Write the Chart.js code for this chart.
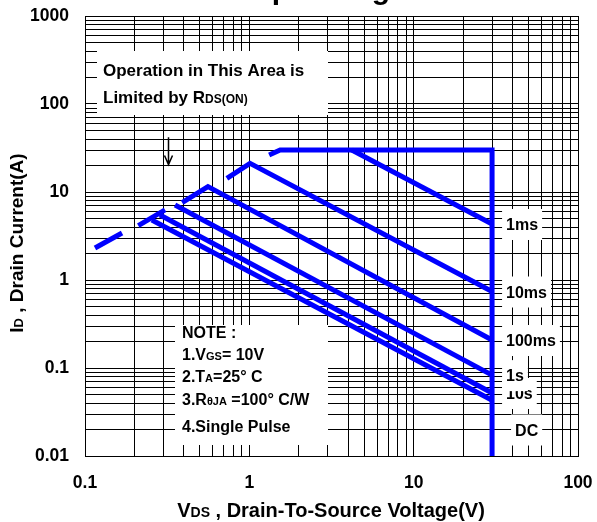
<!DOCTYPE html>
<html>
<head>
<meta charset="utf-8">
<script src="https://cdn.jsdelivr.net/npm/chart.js@4.4.0/dist/chart.umd.min.js"></script>
<style>
  html, body { margin: 0; padding: 0; background: #fff; }
</style>
</head>
<body>
<canvas id="soa" width="597" height="522"></canvas>
<script>
// values, VDS in volts, ID in amps
const rdsV1 = [0.115, 0.168];
const rdsI1 = [2.31, 3.42];
const rdsV2 = [0.211, 0.307];
const rdsI2 = [4.14, 6.25];
const limitV = [1.32, 1.54, 30, 30];
const limitI = [26.3, 30, 30, 0.01];
const ms1V = [4.2, 30];
const ms1I = [30, 4.33];
const ms10V = [0.73, 1.01, 30];
const ms10I = [14.3, 21.2, 0.74];
const ms100V = [0.39, 0.56, 30];
const ms100I = [7.56, 11.5, 0.208];
const s1V = [0.353, 30];
const s1I = [7.12, 0.083];
const s10V = [0.286, 30];
const s10I = [5.48, 0.052];
const dcV = [0.255, 30];
const dcI = [4.81, 0.043];

const xTicks = [0.1, 1, 10, 100];
const yTicks = [0.01, 0.1, 1, 10, 100, 1000];
const curveLabels = ['1ms', '10ms', '100ms', '1s', '10s', 'DC'];
const labelI = [4.33, 0.74, 0.208, 0.083, 0.052, 0.02];

const FAM = '"Liberation Sans", Arial, sans-serif';
const font = size => 'bold ' + size + 'px ' + FAM;

// 1..9 per decade, the usual log paper grid
function gridValues(decades) {
  const out = [];
  for (let d = 0; d < decades.length - 1; d++) {
    for (let m = 1; m < 10; m++) out.push(m === 1 ? decades[d] : decades[d] * m);
  }
  out.push(decades[decades.length - 1]);
  return out.map(v => ({ value: v }));
}

function pts(vs, is) {
  return vs.map((v, k) => ({ x: v, y: is[k] }));
}

// text in runs so subscripts can be smaller
function runs(ctx, parts, x, y, align) {
  let w = 0;
  parts.forEach(p => { ctx.font = font(p[1]); w += ctx.measureText(p[0]).width; });
  let cx = align === 'center' ? x - w / 2 : x;
  ctx.textAlign = 'left';
  ctx.textBaseline = 'alphabetic';
  parts.forEach(p => {
    ctx.font = font(p[1]);
    ctx.fillText(p[0], cx, y);
    cx += ctx.measureText(p[0]).width;
  });
  return w;
}

// keep the plot box where the datasheet has it
function noPad(s) {
  s.paddingLeft = 0; s.paddingRight = 0; s.paddingTop = 0; s.paddingBottom = 0;
}

const notes = {
  id: 'notes',
  beforeDatasetsDraw(chart) {
    const ctx = chart.ctx;
    const xs = chart.scales.x, ys = chart.scales.y;
    ctx.save();
    ctx.fillStyle = '#fff';
    ctx.fillRect(97, 51, 231, 64);
    ctx.fillRect(175, 325, 153, 120);
    ctx.fillStyle = '#000';
    runs(ctx, [['Operation in This Area is', 17]], 103, 76);
    runs(ctx, [['Limited by R', 17], ['DS(ON)', 12]], 103, 103);
    runs(ctx, [['NOTE :', 16]], 182, 338);
    runs(ctx, [['1.V', 16], ['GS', 11], ['= 10V', 16]], 182, 360);
    runs(ctx, [['2.T', 16], ['A', 11], ['=25° C', 16]], 182, 382);
    runs(ctx, [['3.R', 16], ['θJA', 11], [' =100° C/W', 16]], 182, 405);
    runs(ctx, [['4.Single Pulse', 16]], 182, 432);

    // arrow pointing at the RDS(on) limit
    const ax = Math.round(xs.getPixelForValue(0.32)) + 0.5;
    const a0 = ys.getPixelForValue(42), a1 = ys.getPixelForValue(20.5);
    ctx.strokeStyle = '#000';
    ctx.lineWidth = 1.5;
    ctx.beginPath();
    ctx.moveTo(ax, a0);
    ctx.lineTo(ax, a1);
    ctx.moveTo(ax - 4, a1 - 9);
    ctx.lineTo(ax, a1);
    ctx.lineTo(ax + 4, a1 - 9);
    ctx.stroke();

    // curve names, drawn from the bottom up so the 1s box overlaps 10s
    const lx = xs.getPixelForValue(30) + 14;
    for (let k = curveLabels.length - 1; k >= 0; k--) {
      const y = ys.getPixelForValue(labelI[k]);
      const x = curveLabels[k] === 'DC' ? lx + 9 : lx;
      ctx.font = font(16);
      const w = ctx.measureText(curveLabels[k]).width;
      ctx.fillStyle = '#fff';
      ctx.fillRect(x - 4, y - 15, w + 8, 31);
      ctx.fillStyle = '#000';
      runs(ctx, [[curveLabels[k], 16]], x, y + 6);
    }
    ctx.restore();
  },
  afterDraw(chart) {
    const ctx = chart.ctx;
    ctx.save();
    ctx.fillStyle = '#000';
    runs(ctx, [['Safe Operating Area', 30]], 321, -1, 'center');
    runs(ctx, [['V', 20], ['DS', 14], [' , Drain-To-Source Voltage(V)', 20]], 331, 517, 'center');
    ctx.translate(23, 243);
    ctx.rotate(-Math.PI / 2);
    runs(ctx, [['I', 19], ['D', 13], [' , Drain Current(A)', 19]], 0, 0, 'center');
    ctx.restore();
  }
};

const line = (vs, is) => ({
  data: pts(vs, is),
  showLine: true,
  borderColor: '#0000ff',
  borderWidth: 5,
  pointRadius: 0,
  fill: false
});

new Chart(document.getElementById('soa'), {
  type: 'scatter',
  data: {
    datasets: [
      line(rdsV1, rdsI1),
      line(rdsV2, rdsI2),
      line(limitV, limitI),
      line(ms1V, ms1I),
      line(ms10V, ms10I),
      line(ms100V, ms100I),
      line(s1V, s1I),
      line(s10V, s10I),
      line(dcV, dcI)
    ]
  },
  options: {
    responsive: false,
    animation: false,
    devicePixelRatio: 1,
    layout: { padding: { left: 0, right: 19, top: 16, bottom: 0 } },
    plugins: { legend: { display: false }, tooltip: { enabled: false } },
    scales: {
      x: {
        type: 'logarithmic',
        min: 0.1, max: 100,
        afterBuildTicks: s => { s.ticks = gridValues(xTicks); },
        afterFit: s => { s.height = 66; noPad(s); },
        grid: { color: '#000', lineWidth: 1, drawTicks: false },
        border: { color: '#000', width: 1 },
        ticks: {
          color: '#000', font: { family: FAM, size: 17.5, weight: 'bold' },
          padding: 17, maxRotation: 0, autoSkip: false,
          callback: v => xTicks.includes(v) ? String(v) : ''
        }
      },
      y: {
        type: 'logarithmic',
        min: 0.01, max: 1000,
        afterBuildTicks: s => { s.ticks = gridValues(yTicks); },
        afterFit: s => { s.width = 85; noPad(s); },
        grid: { color: '#000', lineWidth: 1, drawTicks: false },
        border: { color: '#000', width: 1 },
        ticks: {
          color: '#000', font: { family: FAM, size: 17.5, weight: 'bold' },
          padding: 16, autoSkip: false,
          callback: v => yTicks.includes(v) ? String(v) : ''
        }
      }
    }
  },
  plugins: [notes]
});
</script>
</body>
</html>
